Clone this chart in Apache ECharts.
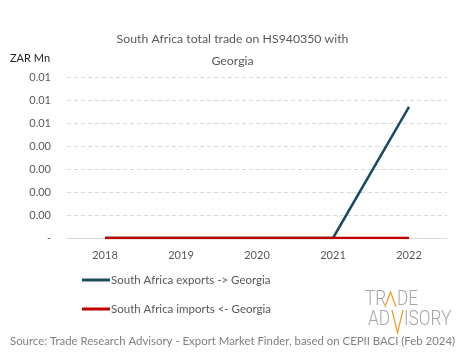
<!DOCTYPE html>
<html><head><meta charset="utf-8">
<script src="https://cdn.jsdelivr.net/npm/echarts@6/dist/echarts.min.js"></script>
<style>html,body{margin:0;padding:0;background:#fff}#c{width:465px;height:359px}</style>
</head><body><div id="c"></div>
<script>
var years = ['2018','2019','2020','2021','2022'];
var exportsVals = [0, 0, 0, 0, 0.0057];
var importsVals = [0, 0, 0, 0, 0];
var seriesNames = ['South Africa exports -> Georgia', 'South Africa imports <- Georgia'];
var titleText = 'South Africa total trade on HS940350 with\n\nGeorgia';
var unitText = 'ZAR Mn';
var sourceText = 'Source: Trade Research Advisory - Export Market Finder, based on CEPII BACI (Feb 2024)';

var FONT = 'Lato, "Noto Sans", sans-serif';
var LOGOFONT = '300 21px Roboto, "Open Sans", sans-serif';
var grey = '#a6a6a6', orange = '#f0a030';
var chart = echarts.init(document.getElementById('c'), null, {renderer:'canvas'});
function logoText(t, x, y){
  return {type:'text', x:x, y:y, scaleX:0.82, style:{text:t, font:LOGOFONT, fill:grey, verticalAlign:'top'}};
}
chart.setOption({
  animation:false,
  backgroundColor:'#ffffff',
  title:{text:titleText, left:'center', top:29, textStyle:{fontFamily:FONT, fontSize:12.3, fontWeight:'normal', color:'#595959', lineHeight:11}},
  grid:{left:67, right:18, top:77, height:161},
  xAxis:{type:'category', data:years, boundaryGap:true,
    axisLine:{lineStyle:{color:'#d9d9d9'}}, axisTick:{show:false},
    axisLabel:{fontFamily:FONT, fontSize:11, color:'#595959', margin:12}},
  yAxis:{type:'value', min:0, max:0.007, interval:0.001,
    axisLine:{show:false}, axisTick:{show:false},
    splitLine:{lineStyle:{color:'#d9d9d9', type:[4,3]}},
    axisLabel:{fontFamily:FONT, fontSize:11, color:'#595959', margin:16,
      formatter:function(v){return Math.abs(v)<1e-12?'-':(v+1e-9).toFixed(2);}}},
  legend:{orient:'vertical', left:77, top:269, itemGap:17, icon:'rect', itemWidth:28, itemHeight:3,
    textStyle:{fontFamily:FONT, fontSize:11.5, color:'#595959', padding:[0,0,0,-4]},
    data:seriesNames},
  series:[
    {name:seriesNames[0], type:'line', data:exportsVals, symbol:'none', lineStyle:{color:'#1b4a63', width:2.5}, itemStyle:{color:'#1b4a63'}},
    {name:seriesNames[1], type:'line', data:importsVals, symbol:'none', lineStyle:{color:'#c00000', width:2.5}, itemStyle:{color:'#c00000'}}
  ],
  graphic:[
    {type:'text', left:10, top:53, style:{text:unitText, font:'11px '+FONT, fill:'#262626'}},
    {type:'text', left:10, top:336, style:{text:sourceText, font:'11.4px '+FONT, fill:'#7f7f7f'}},
    logoText('TR', 365, 289),
    logoText('DE', 397, 289),
    logoText('AD', 368, 309),
    logoText('ISORY', 404, 309),
    {type:'polyline', shape:{points:[[385,307],[390.5,292],[396,307]]}, style:{stroke:orange, lineWidth:1.3, fill:null}},
    {type:'polyline', shape:{points:[[392,310],[397.5,333],[403,310]]}, style:{stroke:orange, lineWidth:1.3, fill:null}}
  ]
});
</script></body></html>
